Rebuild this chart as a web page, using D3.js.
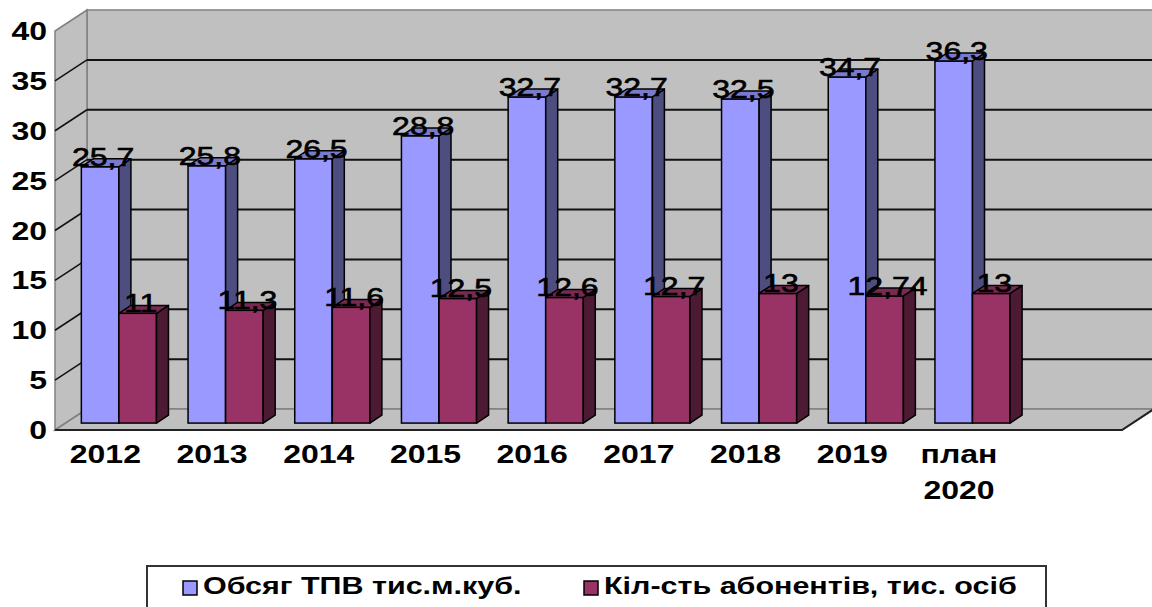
<!DOCTYPE html>
<meta charset="utf-8">
<style>
	body { margin: 0; padding: 0; background: #ffffff; }
	svg { display: block; }
	.tick text, .cat text { font-family: 'Liberation Sans', Arial, sans-serif; font-weight: bold; font-size: 25px; fill: #000; }
	.lbl text { font-family: 'Liberation Sans', Arial, sans-serif; font-size: 25px; fill: #000; stroke: #000; stroke-width: 0.6px; }
	.legend text { font-family: 'Liberation Sans', Arial, sans-serif; font-weight: bold; font-size: 24px; fill: #000; }
</style>
<body>
<svg class="chart"></svg>
<script src="https://d3js.org/d3.v7.min.js"></script>
<script>

var categories = ["2012", "2013", "2014", "2015", "2016", "2017", "2018", "2019", "план\n2020"];
var seriesNames = ["Обсяг ТПВ тис.м.куб.", "Кіл-сть абонентів, тис. осіб"];
var volume = [25.7, 25.8, 26.5, 28.8, 32.7, 32.7, 32.5, 34.7, 36.3];
var subscribers = [11, 11.3, 11.6, 12.5, 12.6, 12.7, 13, 12.74, 13];
var yTicks = [0, 5, 10, 15, 20, 25, 30, 35, 40];

var width = 1152, height = 607;
var depthX = 32, depthY = 21;     // wall depth offset
var barZ0 = 0.33, barZ = 0.375;   // bar depth position / thickness (fraction of wall depth)
var sx = 1.28;                    // horizontal text stretch

var colors = [
	{front: "#9999FF", side: "#4D4D80", top: "#7A7ACC"},
	{front: "#993366", side: "#4D1A33", top: "#7A2952"}
];

var svg = d3.select(".chart").attr("width", width).attr("height", height);

// an extra empty slot on the right, as in the original
var x = d3.scaleBand()
	.domain(d3.range(categories.length + 1))
	.range([55, 1122])
	.padding(0);

var xs = d3.scaleBand()
	.domain([0, 1])
	.range([0, x.bandwidth()])
	.paddingInner(0)
	.paddingOuter(0.42);

var y = d3.scaleLinear().domain([0, 40]).range([430, 31]);

var x0 = x.range()[0], x1 = x.range()[1];

// back wall
svg.append("rect")
	.attr("x", x0 + depthX).attr("y", y(40) - depthY)
	.attr("width", x1 - x0 + 10).attr("height", y(0) - y(40))
	.attr("fill", "#C0C0C0").attr("stroke", "#808080").attr("stroke-width", 1.5);

// side wall
svg.append("polygon")
	.attr("points", [[x0, y(0)], [x0, y(40)], [x0 + depthX, y(40) - depthY], [x0 + depthX, y(0) - depthY]].join(" "))
	.attr("fill", "#C0C0C0").attr("stroke", "#808080").attr("stroke-width", 1.5);

// floor
svg.append("polygon")
	.attr("points", [[x0, y(0)], [x1, y(0)], [x1 + depthX, y(0) - depthY], [x0 + depthX, y(0) - depthY]].join(" "))
	.attr("fill", "#C0C0C0").attr("stroke", "#808080").attr("stroke-width", 1.5);
svg.append("path")
	.attr("d", "M" + x0 + "," + y(0) + "L" + x1 + "," + y(0) + "L" + (x1 + depthX) + "," + (y(0) - depthY))
	.attr("fill", "none").attr("stroke", "#222").attr("stroke-width", 2);

// gridlines
var grid = yTicks.filter(function(d) { return d > 0 && d < 40; });
svg.selectAll(".gridback").data(grid).enter().append("line")
	.attr("x1", x0 + depthX).attr("x2", width)
	.attr("y1", function(d) { return y(d) - depthY; })
	.attr("y2", function(d) { return y(d) - depthY; })
	.attr("stroke", "#111").attr("stroke-width", 2);
svg.selectAll(".gridside").data(grid).enter().append("line")
	.attr("x1", x0).attr("x2", x0 + depthX)
	.attr("y1", function(d) { return y(d); })
	.attr("y2", function(d) { return y(d) - depthY; })
	.attr("stroke", "#111").attr("stroke-width", 1.5);

// y tick labels
svg.append("g").attr("class", "tick").selectAll("g").data(yTicks).enter().append("g")
	.attr("transform", function(d) { return "translate(47," + y(d) + ") scale(" + sx + ",1)"; })
	.append("text")
	.attr("text-anchor", "end").attr("dy", "0.36em")
	.text(function(d) { return d; });

// bars
var bdx = barZ * depthX, bdy = barZ * depthY;
var ox = barZ0 * depthX, oy = barZ0 * depthY;
var barData = [];
categories.forEach(function(c, i) {
	[volume[i], subscribers[i]].forEach(function(v, s) {
		var left = x(i) + xs(s) + ox;
		var right = left + xs.bandwidth();
		barData.push({cat: i, s: s, v: v, left: left, right: right, top: y(v) - oy, bottom: y(0) - oy});
	});
});

var bars = svg.append("g").selectAll("g").data(barData).enter().append("g");
bars.append("rect")
	.attr("x", function(d) { return d.left; })
	.attr("y", function(d) { return d.top; })
	.attr("width", function(d) { return d.right - d.left; })
	.attr("height", function(d) { return d.bottom - d.top; })
	.attr("fill", function(d) { return colors[d.s].front; })
	.attr("stroke", "#000").attr("stroke-width", 1.5);
bars.append("polygon")
	.attr("points", function(d) {
		return [[d.right, d.bottom], [d.right, d.top], [d.right + bdx, d.top - bdy], [d.right + bdx, d.bottom - bdy]].join(" ");
	})
	.attr("fill", function(d) { return colors[d.s].side; })
	.attr("stroke", "#000").attr("stroke-width", 1.5).attr("stroke-linejoin", "round");
bars.append("polygon")
	.attr("points", function(d) {
		return [[d.left, d.top], [d.right, d.top], [d.right + bdx, d.top - bdy], [d.left + bdx, d.top - bdy]].join(" ");
	})
	.attr("fill", function(d) { return colors[d.s].top; })
	.attr("stroke", "#000").attr("stroke-width", 1.5).attr("stroke-linejoin", "round");

// value labels
svg.append("g").attr("class", "lbl").selectAll("g").data(barData).enter().append("g")
	.attr("transform", function(d) {
		var cx = (d.left + d.right) / 2 + bdx / 2 - 3;
		var cy = d.top - bdy / 2 + 3;
		return "translate(" + cx + "," + cy + ") scale(" + sx + ",1)";
	})
	.append("text")
	.attr("text-anchor", "middle")
	.text(function(d) { return String(d.v).replace(".", ","); });

// category labels
var cat = svg.append("g").attr("class", "cat").selectAll("g").data(categories).enter().append("g")
	.attr("transform", function(d, i) { return "translate(" + (x(i) + x.bandwidth() / 2 - 3) + ",463) scale(" + sx + ",1)"; });
cat.append("text")
	.attr("text-anchor", "middle")
	.selectAll("tspan").data(function(d) { return d.split("\n"); }).enter().append("tspan")
	.attr("x", 0)
	.attr("dy", function(d, i) { return i === 0 ? 0 : 36; })
	.text(function(d) { return d; });

// legend
var legend = svg.append("g").attr("class", "legend");
legend.append("rect")
	.attr("x", 147).attr("y", 566).attr("width", 899).attr("height", 60)
	.attr("fill", "#fff").attr("stroke", "#333").attr("stroke-width", 2);
var legendX = [183, 584];
var items = legend.selectAll(".item").data(seriesNames).enter().append("g")
	.attr("transform", function(d, i) { return "translate(" + legendX[i] + ",581)"; });
items.append("rect")
	.attr("width", 14).attr("height", 14)
	.attr("fill", function(d, i) { return colors[i].front; })
	.attr("stroke", "#000").attr("stroke-width", 1.5);
items.append("g")
	.attr("transform", "translate(20,13) scale(1.27,1)")
	.append("text")
	.text(function(d) { return d; });

</script>
</body>
